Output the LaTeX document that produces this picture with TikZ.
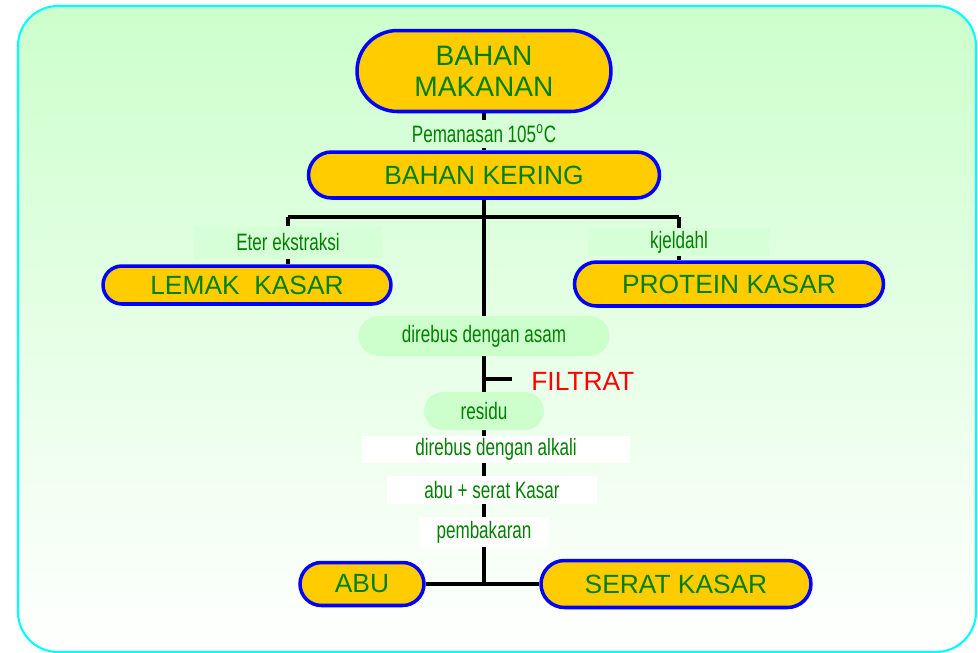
\documentclass[tikz,border=0pt]{standalone}
\usepackage{fontspec}
\setmainfont{Liberation Sans}
\newfontfamily\narrowfont{Liberation Sans}[FakeStretch=0.72]
\definecolor{nodeGold}{RGB}{255, 204, 0}
\definecolor{edgeBlue}{RGB}{0, 0, 255}
\definecolor{textGreen}{RGB}{0, 128, 0}
\definecolor{paleGreen}{RGB}{204, 255, 204}
\definecolor{boxGreen}{RGB}{214, 255, 216}
\definecolor{frameCyan}{RGB}{0, 255, 255}
\definecolor{filtratRed}{RGB}{255, 0, 0}
\usepackage{tikz}
\usetikzlibrary{shapes,positioning,calc,backgrounds}
\pgfdeclarelayer{backdrop}
\pgfsetlayers{backdrop,background,main}

\begin{document}
\begin{tikzpicture}[x=0.02cm,y=-0.02cm,
    stage/.style={rounded rectangle,draw=edgeBlue,line width=2pt,fill=nodeGold,
        text=textGreen,font=\fontsize{15}{17}\selectfont,inner sep=0pt},
    stepnote/.style={rectangle,fill=boxGreen,text=textGreen,inner sep=0pt,
        font=\narrowfont\fontsize{13.5}{15}\selectfont},
    whitenote/.style={stepnote,fill=white},
    bubble/.style={stepnote,rounded rectangle,fill=paleGreen},
    link/.style={line width=2.1pt,black}]
        \useasboundingbox (0,0) rectangle (978,653);

        % Frame
        \begin{pgfonlayer}{backdrop}
            \shadedraw[top color=paleGreen,middle color=paleGreen!65!white,bottom color=white,
                draw=frameCyan,line width=1.2pt,rounded corners=0.8cm] (18,6) rectangle (976,652);
        \end{pgfonlayer}

        % Main stages
        \node[stage,minimum width=5.08cm,minimum height=1.62cm,align=center,
            font=\fontsize{16}{17.5}\selectfont] (makanan) at (484,71) {BAHAN\\MAKANAN};
        \node[stepnote,minimum width=4.96cm,minimum height=0.56cm] (pemanasan) at (484,134) {Pemanasan 105\textsuperscript{o}C};
        \node[stage,minimum width=7.02cm,minimum height=0.92cm] (kering) at (484,175) {BAHAN KERING};

        % Side branches
        \node[stepnote,minimum width=3.78cm,minimum height=0.66cm] (eter) at (288,242) {Eter ekstraksi};
        \node[stepnote,minimum width=3.66cm,minimum height=0.56cm] (kjeldahl) at (679,242) {kjeldahl};
        \node[stage,minimum width=5.76cm,minimum height=0.76cm] (lemak) at (247,285) {LEMAK\ \ KASAR};
        \node[stage,minimum width=6.18cm,minimum height=0.88cm] (protein) at (729,284) {PROTEIN KASAR};

        % Fibre path
        \node[bubble,minimum width=5.02cm,minimum height=0.8cm] (asam) at (484,336) {direbus dengan asam};
        \node[text=filtratRed,font=\fontsize{15}{17}\selectfont,inner sep=0pt,anchor=west] (filtrat) at (531,381) {FILTRAT};
        \node[bubble,minimum width=2.4cm,minimum height=0.76cm] (residu) at (484,411) {residu};
        \node[whitenote,minimum width=5.38cm,minimum height=0.54cm] (alkali) at (496,449) {direbus dengan alkali};
        \node[whitenote,minimum width=4.2cm,minimum height=0.56cm] (abuserat) at (492,490) {abu + serat Kasar};
        \node[whitenote,minimum width=2.62cm,minimum height=0.6cm] (bakar) at (484,532) {pembakaran};
        \node[stage,minimum width=2.48cm,minimum height=0.86cm] (abu) at (362,584) {ABU};
        \node[stage,minimum width=5.4cm,minimum height=0.94cm] (serat) at (676,584) {SERAT KASAR};

        % Connectors
        \coordinate (bar) at (484,217);
        \coordinate (tap) at (484,379);
        \begin{pgfonlayer}{background}
            \draw[link] (makanan.south) -- (kering.north);
            \draw[link] (kering.south) -- (asam.north);
            \draw[link] (eter |- bar) -- (kjeldahl |- bar);
            \draw[link] (eter |- bar) -- (lemak.north -| eter);
            \draw[link] (kjeldahl |- bar) -- (protein.north -| kjeldahl);
            \draw[link] (asam.south) -- (residu.north);
            \draw[link] (tap) -- ([xshift=-11]filtrat.west |- tap);
            \draw[link] (residu.south) -- (residu.south |- abu.east);
            \draw[link] (abu.east) -- (serat.west);
        \end{pgfonlayer}
\end{tikzpicture}
\end{document}
